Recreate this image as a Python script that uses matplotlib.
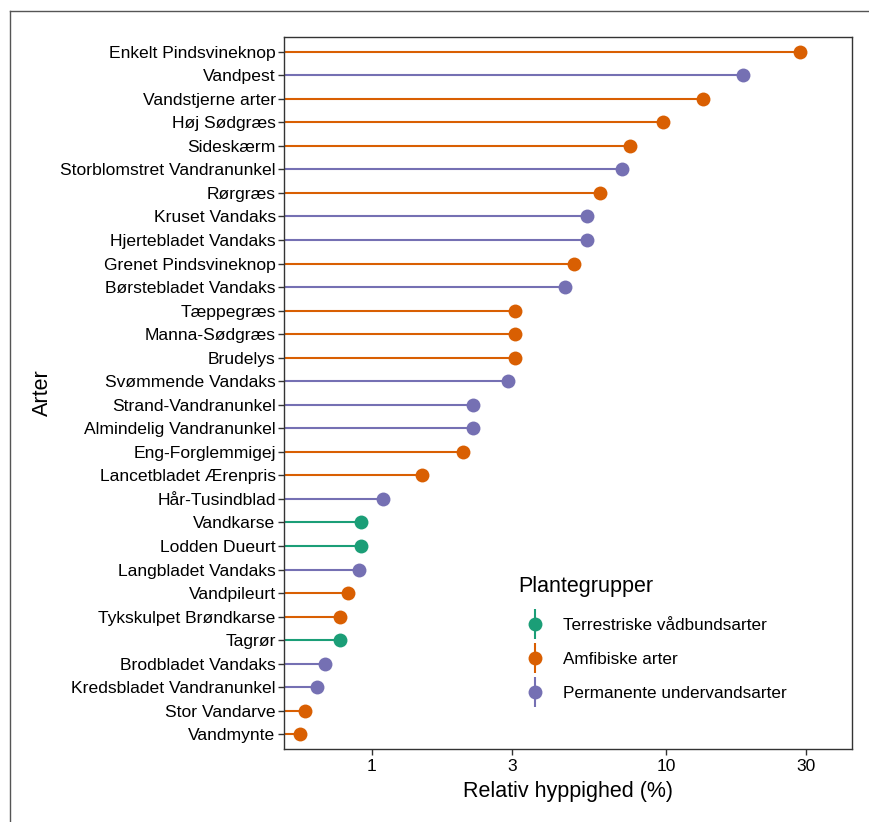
import matplotlib.pyplot as plt
from matplotlib.lines import Line2D
from matplotlib.legend_handler import HandlerTuple
import numpy as np

plt.rcParams['font.family'] = ['Liberation Sans', 'DejaVu Sans']

# species, top to bottom, with relative frequency (%) and plant group
species = ["Enkelt Pindsvineknop", "Vandpest", "Vandstjerne arter", "Høj Sødgræs",
           "Sideskærm", "Storblomstret Vandranunkel", "Rørgræs", "Kruset Vandaks",
           "Hjertebladet Vandaks", "Grenet Pindsvineknop", "Børstebladet Vandaks",
           "Tæppegræs", "Manna-Sødgræs", "Brudelys", "Svømmende Vandaks",
           "Strand-Vandranunkel", "Almindelig Vandranunkel", "Eng-Forglemmigej",
           "Lancetbladet Ærenpris", "Hår-Tusindblad", "Vandkarse", "Lodden Dueurt",
           "Langbladet Vandaks", "Vandpileurt", "Tykskulpet Brøndkarse", "Tagrør",
           "Brodbladet Vandaks", "Kredsbladet Vandranunkel", "Stor Vandarve", "Vandmynte"]
freq = [28.6, 18.3, 13.4, 9.8, 7.55, 7.1, 5.97, 5.4, 5.4, 4.86, 4.53,
        3.06, 3.06, 3.06, 2.9, 2.21, 2.21, 2.04, 1.48, 1.09, 0.92, 0.92,
        0.9, 0.83, 0.78, 0.78, 0.69, 0.65, 0.59, 0.57]
group = ["A", "P", "A", "A", "A", "P", "A", "P", "P", "A", "P",
         "A", "A", "A", "P", "P", "P", "A", "A", "P", "T", "T",
         "P", "A", "A", "T", "P", "P", "A", "A"]

group_names = {"T": "Terrestriske vådbundsarter",
               "A": "Amfibiske arter",
               "P": "Permanente undervandsarter"}
colors = {"T": "#1B9E77", "A": "#D95F02", "P": "#7570B3"}

fig = plt.figure(figsize=(8.69, 8.22), dpi=100)
ax = fig.add_axes([284 / 869, 1 - 749 / 822, (852 - 284) / 869, (749 - 37) / 822])

xmin, xmax = 0.502, 43
n = len(species)
y = np.arange(n)[::-1]
for yi, f, g in zip(y, freq, group):
    ax.plot([xmin, f], [yi, yi], color=colors[g], lw=1.5, zorder=2)
    ax.plot(f, yi, 'o', color=colors[g], ms=10, mec='none', zorder=3)

ax.set_xscale('log')
ax.set_xlim(xmin, xmax)
ax.set_ylim(-0.62, n - 1 + 0.62)
ax.set_xticks([1, 3, 10, 30])
ax.set_xticklabels(["1", "3", "10", "30"])
ax.minorticks_off()
ax.set_yticks(y)
ax.set_yticklabels(species)
ax.tick_params(axis='both', labelsize=12.6, colors='#333333', labelcolor='black',
               length=4, width=1)
ax.tick_params(axis='y', pad=2)
for s in ax.spines.values():
    s.set_color('#333333')
    s.set_linewidth(1)
ax.set_xlabel("Relativ hyppighed (%)", fontsize=15.5, labelpad=5)
ax.set_ylabel("Arter", fontsize=15.5, labelpad=5)

# legend: point with a vertical line through it
handles = []
for g in ["T", "A", "P"]:
    vline = Line2D([], [], marker='|', ms=22, mew=1.5, color=colors[g], ls='none')
    dot = Line2D([], [], marker='o', ms=10, mec='none', color=colors[g], ls='none')
    handles.append((vline, dot))
leg = ax.legend(handles, [group_names[g] for g in ["T", "A", "P"]],
                handler_map={tuple: HandlerTuple(ndivide=1, pad=0)},
                title="Plantegrupper", title_fontsize=15.5, fontsize=12.3,
                frameon=False, loc='upper left', bbox_to_anchor=(0.385, 0.265),
                labelspacing=1.12, handletextpad=0.65, handlelength=2.0)
leg._legend_box.align = "left"
leg._legend_box.sep = 15

# outer frame (left and top edges visible)
fig.add_artist(Line2D([10 / 869, 10 / 869], [0, 1 - 11 / 822], color='#555555', lw=1))
fig.add_artist(Line2D([10 / 869, 1], [1 - 11 / 822, 1 - 11 / 822], color='#555555', lw=1))

fig.savefig("out.png", dpi=100)
